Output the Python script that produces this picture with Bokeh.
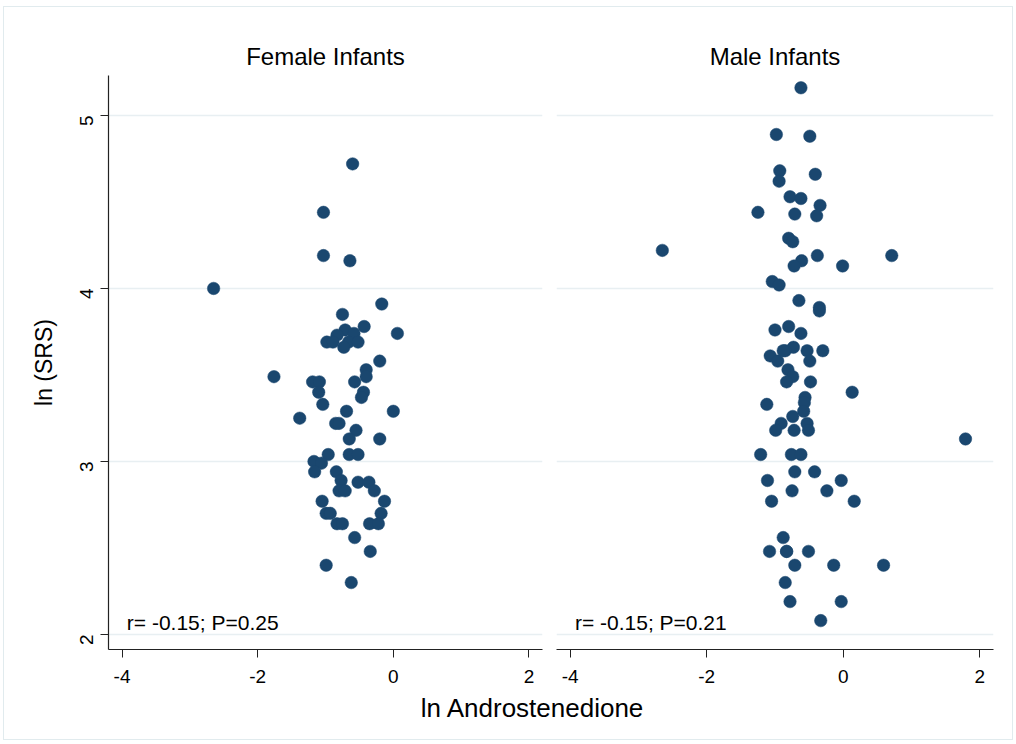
import math
from bokeh.plotting import figure
from bokeh.layouts import column, row
from bokeh.models import Range1d, FixedTicker, Label, Div, ColumnDataSource
from bokeh.embed import file_html
from bokeh.resources import INLINE

# ---------------- data ----------------
panel_titles = ["Female Infants", "Male Infants"]
x_title = "ln Androstenedione"
y_title = "ln (SRS)"
x_tick_values = [-4, -2, 0, 2]
x_tick_labels = ["-4", "-2", "0", "2"]
y_tick_values = [2, 3, 4, 5]
y_tick_labels = ["2", "3", "4", "5"]
stats_text = ["r= -0.15; P=0.25", "r= -0.15; P=0.21"]

female_x = [-0.60, -1.03, -1.03, -0.64, -2.65, -0.17, -0.75, -0.43, 0.06, -0.71,
            -0.83, -0.58, -0.98, -0.89, -0.66, -0.73, -0.52, -0.20, -0.40, -0.40,
            -1.76, -1.19, -1.09, -0.57, -1.10, -0.44, -0.47, -1.04, -0.69, 0.00,
            -1.38, -0.85, -0.80, -0.55, -0.65, -0.20, -0.96, -0.65, -0.52, -1.17,
            -1.06, -1.16, -0.84, -0.77, -0.52, -0.36, -0.80, -0.71, -0.28, -1.05,
            -0.13, -0.99, -0.93, -0.18, -0.83, -0.75, -0.35, -0.22, -0.57, -0.34,
            -0.99, -0.62]
female_y = [4.72, 4.44, 4.19, 4.16, 4.00, 3.91, 3.85, 3.78, 3.74, 3.76,
            3.73, 3.74, 3.69, 3.69, 3.69, 3.66, 3.69, 3.58, 3.53, 3.49,
            3.49, 3.46, 3.46, 3.46, 3.40, 3.40, 3.37, 3.33, 3.29, 3.29,
            3.25, 3.22, 3.22, 3.18, 3.13, 3.13, 3.04, 3.04, 3.04, 3.00,
            2.99, 2.94, 2.94, 2.89, 2.88, 2.88, 2.83, 2.83, 2.83, 2.77,
            2.77, 2.70, 2.70, 2.70, 2.64, 2.64, 2.64, 2.64, 2.56, 2.48,
            2.40, 2.30]

male_x = [-0.62, -0.98, -0.49, -0.93, -0.94, -0.41, -0.78, -0.62, -0.34, -1.25,
          -0.71, -0.39, -0.80, -0.74, -2.65, -0.38, 0.71, -0.61, -0.72, -0.01,
          -1.04, -0.94, -0.65, -0.35, -0.35, -0.80, -1.00, -0.62, -0.73, -0.85,
          -0.88, -0.53, -0.30, -1.07, -0.96, -0.49, -0.81, -0.74, -0.83, -0.48,
          0.13, -0.56, -0.57, -1.12, -0.58, -0.74, -0.91, -0.53, -0.99, -0.72,
          -0.51, 1.79, -1.21, -0.76, -0.62, -0.71, -0.42, -1.11, -0.03, -0.75,
          -0.24, -1.05, 0.16, -0.88, -0.83, -1.08, -0.83, -0.51, -0.71, -0.14,
          0.59, -0.85, -0.78, -0.03, -0.33]
male_y = [5.16, 4.89, 4.88, 4.68, 4.62, 4.66, 4.53, 4.52, 4.48, 4.44,
          4.43, 4.42, 4.29, 4.27, 4.22, 4.19, 4.19, 4.16, 4.13, 4.13,
          4.04, 4.02, 3.93, 3.89, 3.87, 3.78, 3.76, 3.74, 3.66, 3.64,
          3.64, 3.64, 3.64, 3.61, 3.58, 3.58, 3.53, 3.49, 3.46, 3.46,
          3.40, 3.37, 3.34, 3.33, 3.29, 3.26, 3.22, 3.22, 3.18, 3.18,
          3.18, 3.13, 3.04, 3.04, 3.04, 2.94, 2.94, 2.89, 2.89, 2.83,
          2.83, 2.77, 2.77, 2.56, 2.48, 2.48, 2.48, 2.48, 2.40, 2.40,
          2.40, 2.30, 2.19, 2.19, 2.08]

# ---------------- style ----------------
FONT = "Liberation Sans"
DOT = "#1a476f"
GRID = "#e8eff2"

y_range = Range1d(1.913, 5.231)


def make_panel(title, xs, ys, stat, width, left_border, right_border, show_y):
    p = figure(width=width, height=683, title=title,
               x_range=Range1d(-4.2, 2.2), y_range=y_range,
               output_backend="svg", toolbar_location=None,
               y_axis_location="left" if show_y else None,
               min_border_left=left_border, min_border_right=right_border,
               min_border_top=68, min_border_bottom=41)
    p.outline_line_color = None
    p.background_fill_color = "white"
    p.border_fill_color = "white"

    p.title.align = "center"
    p.title.text_font = FONT
    p.title.text_font_size = "24px"
    p.title.text_font_style = "normal"
    p.title.text_color = "black"
    p.title.standoff = 12

    p.xgrid.grid_line_color = None
    p.ygrid.ticker = FixedTicker(ticks=y_tick_values)
    p.ygrid.grid_line_color = GRID
    p.ygrid.grid_line_width = 1.5

    xa = p.xaxis[0]
    xa.ticker = FixedTicker(ticks=x_tick_values)
    xa.major_label_overrides = dict(zip(x_tick_values, x_tick_labels))
    xa.major_label_text_font = FONT
    xa.major_label_text_font_size = "19px"
    xa.major_label_text_color = "black"
    xa.major_label_standoff = 12
    xa.major_tick_out = 8
    xa.major_tick_in = 0
    xa.minor_tick_line_color = None
    xa.axis_line_color = "#222222"
    xa.major_tick_line_color = "#222222"
    xa.axis_line_width = 1.2

    if show_y:
        ya = p.yaxis[0]
        ya.ticker = FixedTicker(ticks=y_tick_values)
        ya.major_label_overrides = dict(zip(y_tick_values, y_tick_labels))
        ya.major_label_orientation = math.pi / 2
        ya.major_label_text_font = FONT
        ya.major_label_text_font_size = "19px"
        ya.major_label_text_color = "black"
        ya.major_label_standoff = 14
        ya.major_tick_out = 8
        ya.major_tick_in = 0
        ya.minor_tick_line_color = None
        ya.axis_line_color = "#222222"
        ya.major_tick_line_color = "#222222"
        ya.axis_line_width = 1.2
        ya.axis_label = y_title
        ya.axis_label_text_font = FONT
        ya.axis_label_text_font_size = "23px"
        ya.axis_label_text_font_style = "normal"
        ya.axis_label_text_color = "black"
        ya.axis_label_standoff = 14

    src = ColumnDataSource(dict(x=xs, y=ys))
    p.scatter("x", "y", source=src, size=12.5, fill_color=DOT,
              line_color=DOT, line_width=0.5)

    p.add_layout(Label(x=-3.93, y=2.07, text=stat, text_font=FONT,
                       text_font_size="21px", text_color="black",
                       text_baseline="middle", text_align="left"))
    return p


left = make_panel(panel_titles[0], female_x, female_y, stats_text[0],
                  545, 104, 7, True)
right = make_panel(panel_titles[1], male_x, male_y, stats_text[1],
                   463, 7, 19, False)

xdiv = Div(text=x_title, width=960, height=49, margin=(0, 0, 0, 48),
           styles={"font-family": FONT, "font-size": "26px",
                   "text-align": "center", "padding-top": "0px",
                   "color": "black"})

layout = column(row(left, right), xdiv, margin=(6, 0, 0, 3),
                styles={"background-color": "white",
                        "border": "1px solid #e1ebee"})

open("out.html", "w").write(file_html(layout, INLINE))
